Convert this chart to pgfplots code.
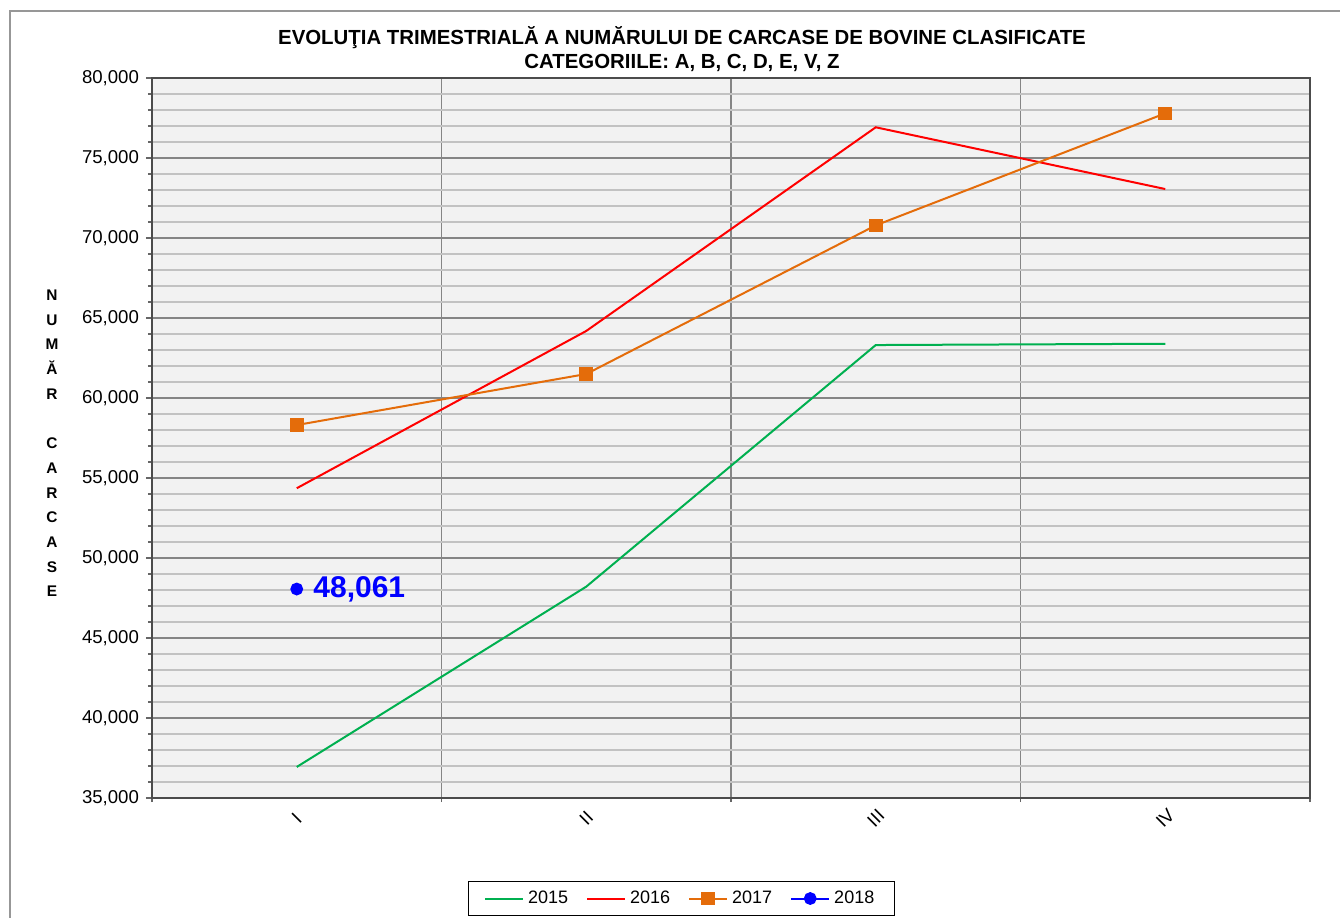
\documentclass[border=0pt]{standalone}
\usepackage{fontspec}
\setmainfont{Liberation Sans}
\usepackage{pgfplots}
\pgfplotsset{compat=1.18}
\definecolor{c15}{HTML}{00B050}
\definecolor{c16}{HTML}{FF0000}
\definecolor{c17}{HTML}{E46C0A}
\definecolor{c18}{HTML}{0000FF}
\definecolor{bgplot}{HTML}{F2F2F2}
\definecolor{framegray}{HTML}{979797}
\begin{document}
\begin{tikzpicture}
\useasboundingbox (0,0) rectangle (670pt,458.5pt);
\draw[framegray, line width=1pt] (4.75pt,-5pt) -- (4.75pt,453pt) -- (676pt,453pt);
\node[font=\bfseries\fontsize{10.2}{12}\selectfont, align=center] at (341pt,434pt)
  {EVOLUŢIA TRIMESTRIALĂ A NUMĂRULUI DE  CARCASE DE BOVINE CLASIFICATE\\CATEGORIILE: A, B, C, D, E, V, Z};
\node[font=\bfseries\fontsize{7.7}{12.35}\selectfont, align=center] at (26pt,236.75pt)
  {N\\U\\M\\Ă\\R\\[12.35pt]C\\A\\R\\C\\A\\S\\E};
\begin{axis}[
  at={(76pt,59.5pt)}, anchor=south west,
  scale only axis, width=579pt, height=360pt,
  xmin=0.5, xmax=4.5, ymin=35000, ymax=80000,
  scaled y ticks=false,
  axis background/.style={fill=bgplot},
  axis line style={draw=black!70, line width=0.8pt},
  tick align=outside,
  xtick pos=bottom, ytick pos=left,
  major tick length=3pt, minor tick length=2pt,
  xtick={1,2,3,4}, xticklabels={I,II,III,IV},
  x tick style={draw=none},
  minor xtick={0.5,1.5,2.5,3.5,4.5},
  minor x tick style={draw=black!60, line width=0.6pt},
  xminorgrids,
  minor x grid style={draw=black!48, line width=0.6pt},
  ytick={35000,40000,...,80000},
  yticklabels={{35,000},{40,000},{45,000},{50,000},{55,000},{60,000},{65,000},{70,000},{75,000},{80,000}},
  minor y tick num=4,
  y tick style={draw=black!60, line width=0.6pt},
  ymajorgrids, yminorgrids,
  major y grid style={draw=black!48, line width=0.6pt},
  minor y grid style={draw=black!24, line width=0.7pt},
  /pgf/number format/assume math mode=true,
  ticklabel style={font=\fontsize{9.3}{11}\selectfont},
  xticklabel style={yshift=-7pt, rotate=45, anchor=center},
  legend style={at={(0.457,-0.1396)}, anchor=center, legend columns=4,
    draw=black, line width=0.5pt, font=\fontsize{9}{11}\selectfont,
    inner xsep=8pt, inner ysep=2.5pt,
    /tikz/every even column/.append style={column sep=7pt}},
  legend cell align=left,
  legend image code/.code={\draw[mark repeat=2,mark phase=2,#1] plot coordinates {(0pt,0pt)(9.5pt,0pt)(19pt,0pt)};},
]
\addplot[c15, line width=1pt] coordinates {(1,36940) (2,48210) (3,63310) (4,63390)};
\addlegendentry{2015}
\addplot[c16, line width=1pt] coordinates {(1,54360) (2,64190) (3,76920) (4,73060)};
\addlegendentry{2016}
\addplot[c17, line width=1pt, mark=square*, mark size=2.9pt, mark options={fill=c17, draw=c17}] coordinates {(1,58310) (2,61500) (3,70790) (4,77790)};
\addlegendentry{2017}
\addplot[c18, line width=1pt, mark=*, mark size=2.7pt, mark options={fill=c18, draw=c18},
  nodes near coords={\textbf{48,061}},
  nodes near coords style={anchor=west, font=\fontsize{15}{18}\selectfont\bfseries, text=c18, xshift=4.5pt}]
  coordinates {(1,48061)};
\addlegendentry{2018}
\end{axis}
\end{tikzpicture}
\end{document}
